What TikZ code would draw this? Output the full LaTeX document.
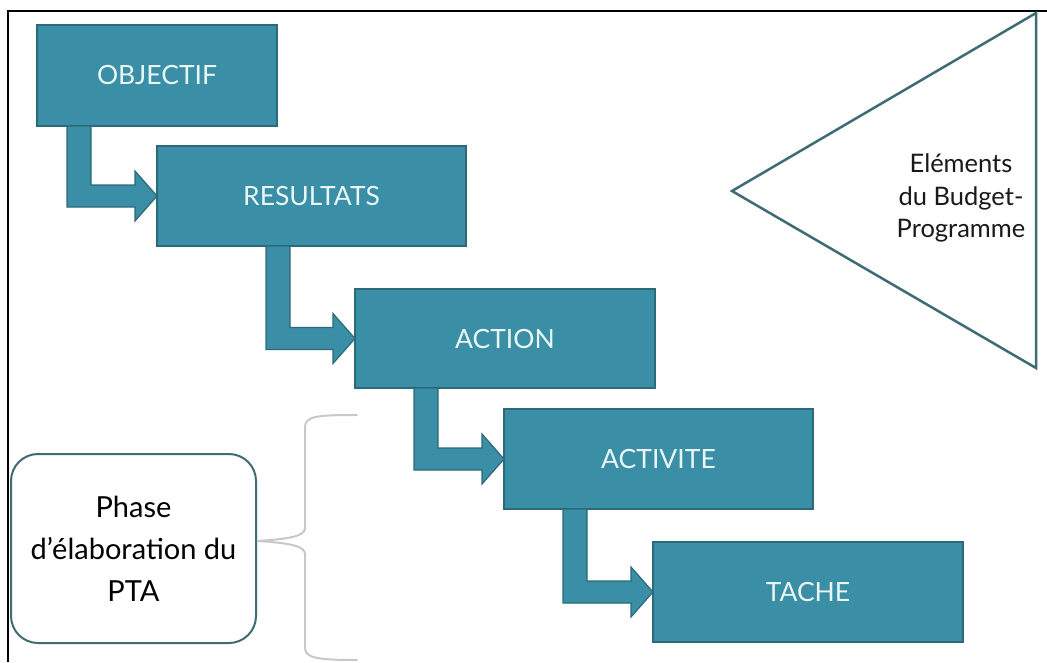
\documentclass[tikz,border=0pt]{standalone}
\usepackage{fontspec}
\setmainfont{Lato}
\usetikzlibrary{calc}
\definecolor{tealfill}{RGB}{58,143,166}
\definecolor{tealdark}{RGB}{44,106,122}
\definecolor{txtpale}{RGB}{232,246,245}
\definecolor{outline}{RGB}{62,108,116}
\definecolor{bracegray}{RGB}{200,200,200}
\newcommand{\bentarrow}[3]{%
  \draw[arr] let \p1=(#1.south west), \p2=(#2.west) in
    (\x1+#3,\y1) -- (\x1+#3+24pt,\y1) -- (\x1+#3+24pt,\y2+11pt)
    -- (\x2-22pt,\y2+11pt) -- (\x2-22pt,\y2+25pt) -- (\x2,\y2)
    -- (\x2-22pt,\y2-25pt) -- (\x2-22pt,\y2-11pt) -- (\x1+#3,\y2-11pt) -- cycle;}
\begin{document}
\begin{tikzpicture}[x=1pt,y=-1pt,
  box/.style={draw=tealdark, fill=tealfill, line width=1.5pt, text=txtpale,
    font=\fontsize{26.5}{30}\selectfont, anchor=north west, inner sep=0pt, outer sep=0pt},
  arr/.style={draw=tealdark, fill=tealfill, line width=1.2pt, line join=miter}]
\useasboundingbox (0,0) rectangle (1047,662);
\fill[white] (0,0) rectangle (1047,662);
\draw[line width=1.5pt] (8,662) -- (8,11) -- (1047,11);

\node[box, minimum width=240pt, minimum height=101pt] (obj) at (37,25) {OBJECTIF};
\node[box, minimum width=309pt, minimum height=100pt] (res) at (157,146) {RESULTATS};
\node[box, minimum width=300pt, minimum height=99pt] (act) at (355,289) {ACTION};
\node[box, minimum width=309pt, minimum height=100pt] (activ) at (504,409) {ACTIVITE};
\node[box, minimum width=310pt, minimum height=100pt] (tache) at (653,542) {TACHE};

\bentarrow{obj}{res}{30pt}
\bentarrow{res}{act}{109pt}
\bentarrow{act}{activ}{59pt}
\bentarrow{activ}{tache}{59pt}

\node[draw=outline, line width=2pt, rounded corners=27pt, minimum width=245pt,
  minimum height=189pt, anchor=north west, align=center, inner sep=0pt,
  font=\fontsize{29}{42}\selectfont, text=black] (pta) at (10,453)
  {Phase\\d’élaboration du\\PTA};

\coordinate (bt) at (257,541);
\draw[bracegray, line width=2pt, line cap=round]
  (357,415) .. controls (318,415) and (305,416) .. (305,427)
  -- (305,528) .. controls (305,536) and (290,539) .. (bt)
  .. controls (290,543) and (305,546) .. (305,554)
  -- (305,648) .. controls (305,658) and (318,660) .. (357,660);

\coordinate (tl) at (732,191);
\coordinate (tt) at (1036,13);
\coordinate (tb) at (1036,368);
\draw[outline, line width=2.5pt, line join=miter] (tl) -- (tt) -- (tb) -- cycle;
\node[align=center, font=\fontsize{25.5}{32.5}\selectfont, text=black!90, inner sep=0pt]
  (elem) at (961,198) {Eléments\\du Budget-\\Programme};
\end{tikzpicture}
\end{document}
